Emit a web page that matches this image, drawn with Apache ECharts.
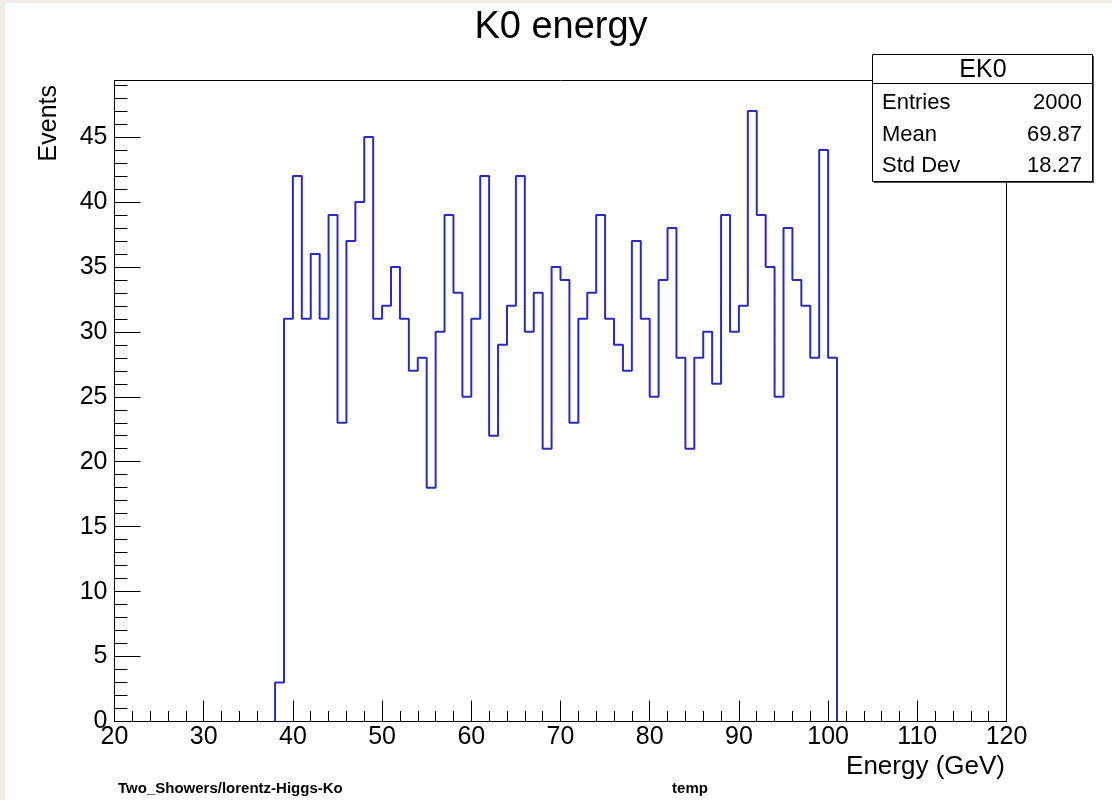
<!DOCTYPE html>
<html>
<head>
<meta charset="utf-8">
<script src="https://cdn.jsdelivr.net/npm/echarts@6/dist/echarts.min.js"></script>
<style>
  html, body { margin: 0; padding: 0; background: #ffffff; }
  #chart { width: 1112px; height: 800px; }
</style>
</head>
<body>
<div id="chart"></div>
<script>
// ---- data ----
const binLowEdges = [38, 39, 40, 41, 42, 43, 44, 45, 46, 47,
                     48, 49, 50, 51, 52, 53, 54, 55, 56, 57,
                     58, 59, 60, 61, 62, 63, 64, 65, 66, 67,
                     68, 69, 70, 71, 72, 73, 74, 75, 76, 77,
                     78, 79, 80, 81, 82, 83, 84, 85, 86, 87,
                     88, 89, 90, 91, 92, 93, 94, 95, 96, 97,
                     98, 99, 100];
const binWidth = 1;
const counts = [3, 31, 42, 31, 36, 31, 39, 23, 37, 40,
                45, 31, 32, 35, 31, 27, 28, 18, 30, 39,
                33, 25, 31, 42, 22, 29, 32, 42, 30, 33,
                21, 35, 34, 23, 31, 33, 39, 31, 29, 27,
                37, 31, 25, 34, 38, 28, 21, 28, 30, 26,
                39, 30, 32, 47, 39, 35, 25, 38, 34, 32,
                28, 44, 28];
const xTickLabels = [20, 30, 40, 50, 60, 70, 80, 90, 100, 110, 120];
const yTickLabels = [0, 5, 10, 15, 20, 25, 30, 35, 40, 45];
const yMax = 49.35;
const titleText = 'K0 energy';
const xAxisTitle = 'Energy (GeV)';
const yAxisTitle = 'Events';
const statsName = 'EK0';
const statsLabels = ['Entries', 'Mean', 'Std Dev'];
const statsValues = ['2000', '69.87', '18.27'];
const footerLeft = 'Two_Showers/lorentz-Higgs-Ko';
const footerMid = 'temp';

// ---- build step outline ----
const stepData = [[binLowEdges[0], 0]];
binLowEdges.forEach((e, i) => stepData.push([e, counts[i]]));
stepData.push([binLowEdges[binLowEdges.length - 1] + binWidth, 0]);

const FONT = "'Liberation Sans', Arial, Helvetica, sans-serif";
const chart = echarts.init(document.getElementById('chart'), null, { renderer: 'canvas' });

const statsGraphics = [];
statsGraphics.push({ type: 'rect', z: 100, shape: { x: 874, y: 56, width: 220, height: 127 },
  style: { fill: '#555555' } });
statsGraphics.push({ type: 'rect', z: 101, shape: { x: 872.5, y: 54.5, width: 220, height: 127 },
  style: { fill: '#ffffff', stroke: '#000000', lineWidth: 1 } });
statsGraphics.push({ type: 'line', z: 102, shape: { x1: 872.5, y1: 83.5, x2: 1092.5, y2: 83.5 },
  style: { stroke: '#000000', lineWidth: 1 } });
statsGraphics.push({ type: 'text', z: 103, x: 983, y: 70.5,
  style: { text: statsName, font: '25px ' + FONT, fill: '#000', align: 'center', verticalAlign: 'middle' } });
const rowY = [103.3, 135.2, 166.2];
statsLabels.forEach((lab, i) => {
  statsGraphics.push({ type: 'text', z: 103, x: 882, y: rowY[i],
    style: { text: lab, font: '22px ' + FONT, fill: '#000', align: 'left', verticalAlign: 'middle' } });
  statsGraphics.push({ type: 'text', z: 103, x: 1082, y: rowY[i],
    style: { text: statsValues[i], font: '22px ' + FONT, fill: '#000', align: 'right', verticalAlign: 'middle' } });
});

const option = {
  animation: false,
  backgroundColor: '#ffffff',
  grid: {
    left: 114.5, right: 105.5, top: 80.5, bottom: 78.5,
    show: true, borderColor: '#000000', borderWidth: 1, backgroundColor: 'transparent',
    containLabel: false
  },
  xAxis: {
    type: 'value',
    min: xTickLabels[0], max: xTickLabels[xTickLabels.length - 1], interval: 10,
    axisLine: { show: true, onZero: false, lineStyle: { color: '#000', width: 1 } },
    axisTick: { show: true, inside: true, length: 21, lineStyle: { color: '#000', width: 1 } },
    minorTick: { show: true, splitNumber: 5, length: 10.5, lineStyle: { color: '#000', width: 1 } },
    splitLine: { show: false },
    axisLabel: { show: true, margin: 3, color: '#000', fontSize: 25, fontFamily: FONT,
      formatter: v => String(v) }
  },
  yAxis: {
    type: 'value',
    min: yTickLabels[0], max: yMax, interval: 5,
    axisLine: { show: true, onZero: false, lineStyle: { color: '#000', width: 1 } },
    axisTick: { show: true, inside: true, length: 26, lineStyle: { color: '#000', width: 1 } },
    minorTick: { show: true, splitNumber: 5, length: 13, lineStyle: { color: '#000', width: 1 } },
    splitLine: { show: false },
    axisLabel: { show: true, margin: 7, color: '#000', fontSize: 25, fontFamily: FONT,
      showMaxLabel: false,
      formatter: v => (yTickLabels.indexOf(v) >= 0 ? String(v) : '') }
  },
  series: [{
    type: 'line',
    step: 'end',
    data: stepData,
    showSymbol: false,
    symbol: 'none',
    clip: true,
    lineStyle: { color: '#2a2ac4', width: 2 },
    z: 5
  }],
  graphic: [
    { type: 'rect', z: 200, shape: { x: 0, y: 0, width: 5, height: 800 }, style: { fill: '#f1eee9' } },
    { type: 'rect', z: 200, shape: { x: 0, y: 0, width: 1112, height: 3 }, style: { fill: '#f1eee9' } },
    { type: 'text', z: 50, x: 561, y: 28,
      style: { text: titleText, font: '38px ' + FONT, fill: '#000', align: 'center', verticalAlign: 'middle' } },
    { type: 'text', z: 50, x: 49, y: 85, rotation: Math.PI / 2,
      style: { text: yAxisTitle, font: '25px ' + FONT, fill: '#000', align: 'right', verticalAlign: 'middle' } },
    { type: 'text', z: 50, x: 1005, y: 767,
      style: { text: xAxisTitle, font: '26px ' + FONT, fill: '#000', align: 'right', verticalAlign: 'middle' } },
    { type: 'text', z: 50, x: 118, y: 789,
      style: { text: footerLeft, font: 'bold 15px ' + FONT, fill: '#000', align: 'left', verticalAlign: 'middle' } },
    { type: 'text', z: 50, x: 690, y: 789,
      style: { text: footerMid, font: 'bold 15px ' + FONT, fill: '#000', align: 'center', verticalAlign: 'middle' } }
  ].concat(statsGraphics)
};
chart.setOption(option);
</script>
</body>
</html>
